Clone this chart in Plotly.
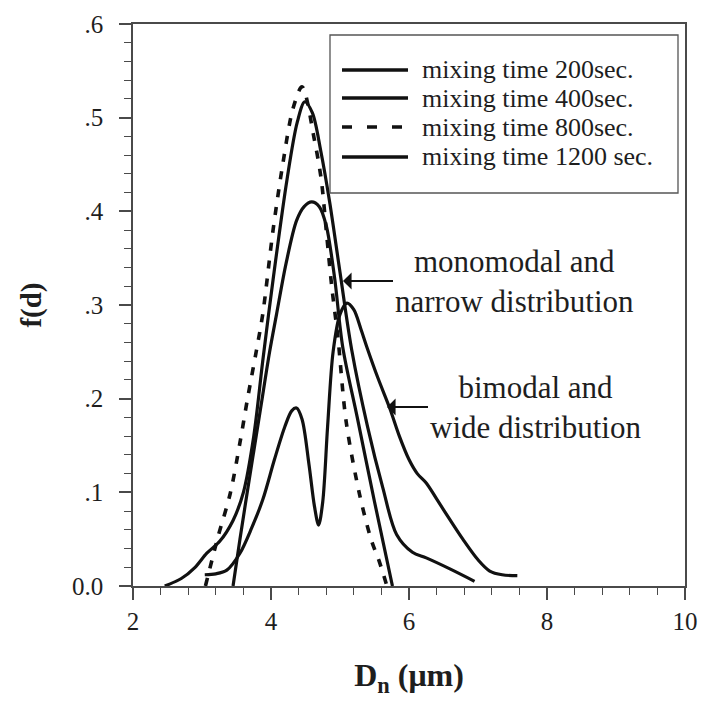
import plotly.graph_objects as go

# ---------------- data ----------------
labels = ["mixing time 200sec.", "mixing time 400sec.", "mixing time 800sec.", "mixing time 1200 sec."]

# 200 sec : bimodal, wide
x200 = [3.04, 3.2, 3.36, 3.55, 3.72, 3.88, 4.05, 4.2, 4.3, 4.37, 4.45, 4.55, 4.63, 4.69, 4.75, 4.82,
        4.9, 5.0, 5.1, 5.2, 5.3, 5.39, 5.55, 5.72, 5.86, 6.0, 6.12, 6.25, 6.4, 6.6, 6.78, 7.0, 7.17, 7.35, 7.57]
y200 = [0.012, 0.013, 0.017, 0.035, 0.062, 0.092, 0.135, 0.17, 0.187, 0.19, 0.178, 0.13, 0.085, 0.065, 0.09, 0.17,
        0.25, 0.29, 0.302, 0.295, 0.275, 0.255, 0.222, 0.19, 0.16, 0.135, 0.12, 0.11, 0.093, 0.07, 0.05, 0.028,
        0.016, 0.012, 0.011]

# 400 sec : tall peak with long tails
x400 = [2.46, 2.7, 2.9, 3.07, 3.26, 3.45, 3.6, 3.75, 3.88, 4.03, 4.23, 4.38, 4.49, 4.6, 4.72, 4.85,
        5.0, 5.17, 5.4, 5.62, 5.82, 6.05, 6.25, 6.6, 6.95]
y400 = [0.0, 0.008, 0.02, 0.035, 0.048, 0.07, 0.1, 0.16, 0.24, 0.327, 0.433, 0.495, 0.517, 0.505, 0.465, 0.41,
        0.335, 0.252, 0.17, 0.105, 0.055, 0.036, 0.03, 0.018, 0.005]

# 800 sec : dashed
x800 = [3.05, 3.23, 3.41, 3.55, 3.66, 3.79, 3.88, 4.03, 4.17, 4.32, 4.45, 4.63, 4.73, 4.8, 4.88, 4.97,
        5.09, 5.28, 5.45, 5.57, 5.68]
y800 = [0.0, 0.052, 0.099, 0.153, 0.2, 0.252, 0.29, 0.38, 0.45, 0.51, 0.533, 0.476, 0.433, 0.38, 0.32, 0.265,
        0.175, 0.099, 0.05, 0.026, 0.0]

# 1200 sec : monomodal, peak ~0.41
x1200 = [3.45, 3.55, 3.69, 3.85, 3.98, 4.08, 4.22, 4.37, 4.48, 4.59, 4.7, 4.8, 4.92, 5.04, 5.25, 5.5, 5.76]
y1200 = [0.0, 0.05, 0.116, 0.19, 0.25, 0.29, 0.345, 0.39, 0.405, 0.41, 0.405, 0.385, 0.33, 0.255, 0.18, 0.09, 0.0]

xtick_vals = [2, 4, 6, 8, 10]
xtick_text = ["2", "4", "6", "8", "10"]
ytick_vals = [0.0, 0.1, 0.2, 0.3, 0.4, 0.5, 0.6]
ytick_text = ["0.0", ".1", ".2", ".3", ".4", ".5", ".6"]

x_title = "<b>D<sub>n</sub> (\u03bcm)</b>"
y_title = "<b>f(d)</b>"
ann_mono = "monomodal and<br>narrow distribution"
ann_bi = "bimodal and<br>wide distribution"

# ---------------- geometry ----------------
W, H = 701, 705
L, R, T, B = 133, 685, 24, 586
FONT = "Liberation Serif, Times New Roman, serif"
XS = (R - L) / 8.0      # px per x unit
YS = (B - T) / 0.6      # px per y unit


def px(xp):
    return (xp - L) / (R - L)


def py(yp):
    return (B - yp) / (B - T)


def dx(xp):
    return 2 + (xp - L) / XS


def dy(yp):
    return (B - yp) / YS


INK = "#111111"
TXT = "#1e1e1e"
AX = "#4a4a4a"

fig = go.Figure()
series = [(x200, y200, "solid"), (x400, y400, "solid"), (x800, y800, "8px,10px"), (x1200, y1200, "solid")]
for (xs, ys, dash), name in zip(series, labels):
    fig.add_trace(go.Scatter(x=xs, y=ys, mode="lines", name=name, showlegend=False,
                             line=dict(color=INK, width=3.6 if dash != "solid" else 3.2, dash=dash,
                                       shape="spline", smoothing=0.9)))

fig.update_layout(
    template="none",
    width=W, height=H,
    margin=dict(l=L, r=W - R, t=T, b=H - B, autoexpand=False),
    paper_bgcolor="white", plot_bgcolor="white",
    font=dict(family=FONT, size=25, color=TXT),
    showlegend=False,
)
fig.update_xaxes(range=[2, 10], tickvals=xtick_vals, ticktext=xtick_text, automargin=True,
                 title=dict(text=x_title, standoff=30, font=dict(family=FONT, size=32, color=TXT)),
                 showline=True, linecolor=AX, linewidth=1.5, mirror=True,
                 ticks="outside", ticklen=12, tickwidth=1.5, tickcolor=AX,
                 showgrid=False, zeroline=False,
                 minor=dict(dtick=0.4, tick0=2, ticks="outside", ticklen=7, tickwidth=1.2,
                            tickcolor=AX, showgrid=False),
                 tickfont=dict(family=FONT, size=25, color=TXT))
fig.update_yaxes(range=[0, 0.6], tickvals=ytick_vals, ticktext=ytick_text, automargin=True,
                 title=dict(text=y_title, standoff=22, font=dict(family=FONT, size=29, color=TXT)),
                 showline=True, linecolor=AX, linewidth=1.5, mirror=True,
                 ticks="outside", ticklen=12, tickwidth=1.5, tickcolor=AX,
                 showgrid=False, zeroline=False, ticklabelstandoff=11,
                 minor=dict(dtick=0.02, tick0=0, ticks="outside", ticklen=7, tickwidth=1.2,
                            tickcolor=AX, showgrid=False),
                 tickfont=dict(family=FONT, size=25, color=TXT))

# custom legend
fig.add_shape(type="rect", xref="paper", yref="paper", x0=px(330), x1=px(678), y0=py(193), y1=py(35),
              line=dict(color="#555555", width=1.3), fillcolor="white", layer="above")
rows = [70, 98, 127, 157]
dashes = ["solid", "solid", "10px,15px", "solid"]
for r, lab, d in zip(rows, labels, dashes):
    fig.add_shape(type="line", xref="paper", yref="paper", x0=px(342), x1=px(408), y0=py(r), y1=py(r),
                  line=dict(color=INK, width=3.4, dash=d), layer="above")
    fig.add_annotation(xref="paper", yref="paper", x=px(420), y=py(r), text=lab, showarrow=False,
                       xanchor="left", yanchor="middle", font=dict(family=FONT, size=26, color=TXT))

# annotations with arrows: (text, tip px x, tip px y, text-centre px x)
for txt, tx, ty, cx in [(ann_mono, 343, 281, 514), (ann_bi, 387, 407, 535)]:
    fig.add_annotation(x=dx(tx), y=dy(ty), xref="x", yref="y", text=txt, align="center",
                       font=dict(family=FONT, size=31, color=TXT),
                       showarrow=True, axref="pixel", ayref="pixel", ax=cx - tx, ay=0,
                       arrowhead=1, arrowsize=1.3, arrowwidth=2.2, arrowcolor=INK, standoff=0)

fig.write_html("out.html")
